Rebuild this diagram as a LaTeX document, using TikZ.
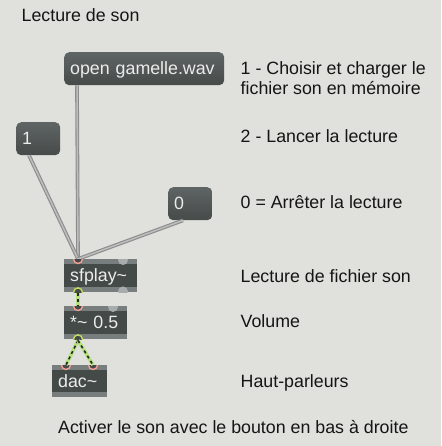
\documentclass[tikz,border=0pt]{standalone}
\usepackage{fontspec}
\setmainfont{Liberation Sans}
\usetikzlibrary{calc}
\definecolor{bg}{HTML}{E0E1DC}
\definecolor{msgtop}{HTML}{5F6464}
\definecolor{msgbot}{HTML}{464B4A}
\definecolor{objbody}{HTML}{444A48}
\definecolor{strip}{HTML}{787D7E}
\definecolor{boxtext}{HTML}{ECECEC}
\definecolor{inletcol}{HTML}{F2A091}
\definecolor{sigoutcol}{HTML}{C6DA5F}
\definecolor{portgrey}{HTML}{A8ACAD}
\definecolor{cordout}{HTML}{8C8C8C}
\definecolor{cordin}{HTML}{BDBDBD}
\definecolor{sigcol}{HTML}{B4E27C}
\definecolor{labeltext}{HTML}{151515}
\begin{document}
\begin{tikzpicture}[x=1pt,y=-1pt,
  every node/.style={font=\fontsize{17.8}{20}\selectfont, inner sep=0pt},
  label/.style={anchor=base west, text=labeltext},
  msgbox/.style={anchor=north west, rounded corners=5pt, top color=msgtop, bottom color=msgbot,
    text=boxtext, minimum height=33pt, text height=12pt, text depth=0pt, inner xsep=6pt, align=left},
  objbox/.style={anchor=north west, fill=objbody, text=boxtext, minimum height=33pt,
    text height=12pt, text depth=0pt, inner xsep=6pt, align=left,
    path picture={
      \fill[strip] (path picture bounding box.north west) rectangle ([yshift=-5pt]path picture bounding box.north east);
      \fill[strip] (path picture bounding box.south west) rectangle ([yshift=5pt]path picture bounding box.south east);}},
  cord/.style={draw=cordout, line width=1.1pt, double=cordin, double distance=1.5pt},
  sigcord/.style={draw=sigcol, line width=3.6pt,
    postaction={draw=black!85, line width=1.6pt, dash pattern=on 3pt off 3pt}},
  inletmark/.style={fill=objbody, draw=inletcol, line width=1.4pt},
  outletmark/.style={fill=objbody, draw=sigoutcol, line width=1.4pt},
  portmark/.style={fill=portgrey}
]
\fill[bg] (0,0) rectangle (441,446);
\useasboundingbox (0,0) rectangle (441,446);

% labels
\node[label] (title) at (21.5,22) {Lecture de son};
\node[label] (l1a) at (240.5,75) {1 - Choisir et charger le};
\node[label] (l1b) at (240.5,95) {fichier son en mémoire};
\node[label] (l2) at (240.5,143) {2 - Lancer la lecture};
\node[label] (l3) at (240.5,208) {0 = Arrêter la lecture};
\node[label] (l4) at (240.5,282) {Lecture de fichier son};
\node[label] (l5) at (240.5,327) {Volume};
\node[label] (l6) at (240.5,387) {Haut-parleurs};
\node[label] (foot) at (58,433) {Activer le son avec le bouton en bas à droite};

% boxes
\node[msgbox, text width=148pt] (msg) at (64,52) {open gamelle.wav};
\node[msgbox, text width=32pt] (one) at (16,122) {1};
\node[msgbox, text width=32pt] (zero) at (168,187) {0};
\node[objbox, text width=61pt] (sf) at (64,259) {sfplay\char`~};
\node[objbox, text width=51pt] (mul) at (64,306) {*\char`~{} 0.5};
\node[objbox, text width=43pt, minimum height=32pt] (dac) at (52,365) {dac\char`~};

% ports
\coordinate (msgout) at ($(msg.south west)+(13,0)$);
\coordinate (oneout) at ($(one.south west)+(13,0)$);
\coordinate (zeroout) at ($(zero.south west)+(15,0)$);
\coordinate (sfin) at ($(sf.north west)+(14,0)$);
\coordinate (sfin2) at ($(sf.north west)+(59,0)$);
\coordinate (sfout) at ($(sf.south west)+(14,0)$);
\coordinate (sfout2) at ($(sf.south west)+(59,0)$);
\coordinate (mulin) at ($(mul.north west)+(14,0)$);
\coordinate (mulin2) at ($(mul.north west)+(49,0)$);
\coordinate (mulout) at ($(mul.south west)+(14,0)$);
\coordinate (dacin1) at ($(dac.north west)+(14,0)$);
\coordinate (dacin2) at ($(dac.north west)+(41,0)$);

% control cords
\draw[cord] (msgout) -- (sfin);
\draw[cord] (oneout) -- (sfin);
\draw[cord] (zeroout) -- (sfin);

% inlet / outlet marks
\begin{scope}
  \clip (sf.south west) rectangle (sf.north east);
  \fill[portmark] ([yshift=-1pt]sfin2) circle (5pt);
  \fill[portmark] ([yshift=1pt]sfout2) circle (5pt);
  \filldraw[inletmark] (sfin) circle (4.5pt);
  \filldraw[outletmark] (sfout) circle (4.5pt);
\end{scope}
\begin{scope}
  \clip (mul.south west) rectangle (mul.north east);
  \fill[portmark] ([yshift=-1pt]mulin2) circle (5pt);
  \filldraw[inletmark] (mulin) circle (4.5pt);
  \filldraw[outletmark] (mulout) circle (4.5pt);
\end{scope}
\begin{scope}
  \clip (dac.south west) rectangle (dac.north east);
  \filldraw[inletmark] (dacin1) circle (4.5pt);
  \filldraw[inletmark] (dacin2) circle (4.5pt);
\end{scope}

% signal cords
\draw[sigcord] ([yshift=-1pt]sfout) -- (mulin);
\draw[sigcord] ([yshift=-1pt]mulout) -- (dacin1);
\draw[sigcord] ([yshift=-1pt]mulout) -- (dacin2);
\end{tikzpicture}
\end{document}
